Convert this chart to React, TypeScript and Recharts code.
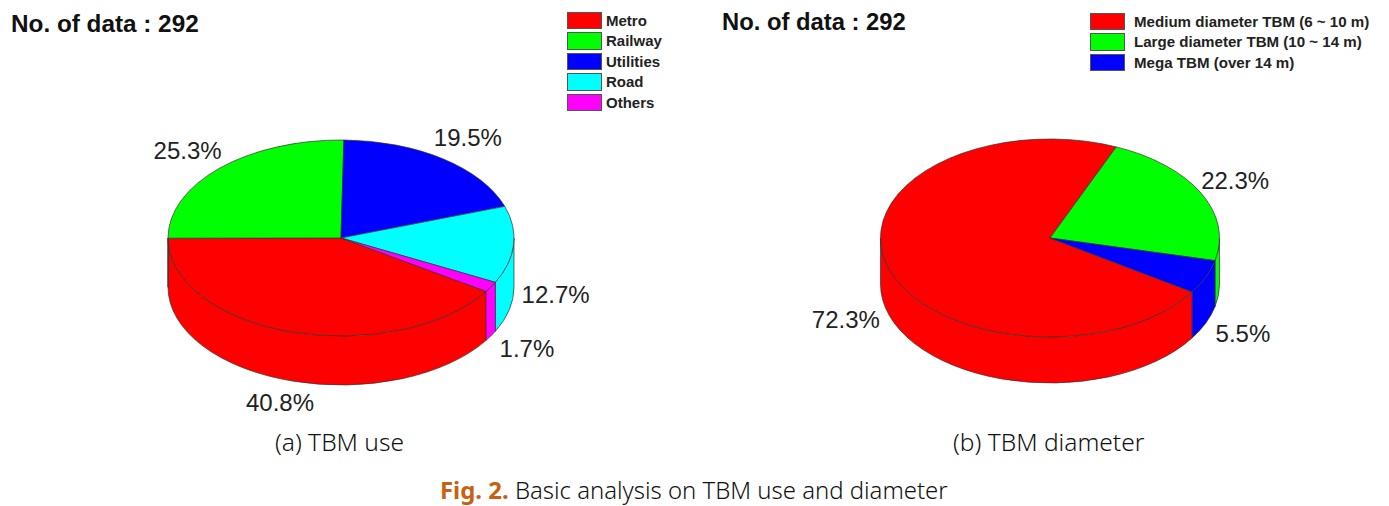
import { PieChart, Pie, Legend } from 'recharts'

const useNames = ['Metro', 'Railway', 'Utilities', 'Road', 'Others']
const useValues = [40.8, 25.3, 19.5, 12.7, 1.7]
const useColors = ['#FF0000', '#00FF00', '#0000FF', '#00FFFF', '#FF00FF']

const diameterNames = ['Medium diameter TBM (6 ~ 10 m)', 'Large diameter TBM (10 ~ 14 m)', 'Mega TBM (over 14 m)']
const diameterValues = [72.3, 22.3, 5.5]
const diameterColors = ['#FF0000', '#00FF00', '#0000FF']

const useNudges = [[-12, 22], [-32, -18], [25, -21], [42, 1], [36, 13]]
const diameterNudges = [[-42, 7], [34, -13], [37, 11]]

const toTable = (names: string[], values: number[], colors: string[]) =>
  names.map((name, i) => ({ name, value: values[i], fill: colors[i] }))

const rad = (a: number) => (a * Math.PI) / 180

// Recharts only knows circles, so the sector is redrawn as a tilted disc
function discShape(ry: number, depth: number) {
  return function DiscSector(props: any) {
    const { cx, cy, outerRadius: rx, startAngle, endAngle, fill } = props
    const pt = (a: number, dy = 0) => `${cx + rx * Math.cos(rad(a))} ${cy - ry * Math.sin(rad(a)) + dy}`
    const lo = Math.min(startAngle, endAngle)
    const hi = Math.max(startAngle, endAngle)
    const large = hi - lo > 180 ? 1 : 0

    const walls: string[] = []
    for (const k of [-360, 0, 360]) {
      const a = Math.max(lo, 180 + k)
      const b = Math.min(hi, 360 + k)
      if (b > a) {
        walls.push(
          `M${pt(b)} A${rx} ${ry} 0 0 1 ${pt(a)} L${pt(a, depth)} A${rx} ${ry} 0 0 0 ${pt(b, depth)} Z`
        )
      }
    }

    return (
      <g>
        {walls.map((d) => (
          <path key={d} d={d} fill={fill} stroke="#333" strokeWidth={0.7} />
        ))}
        <path
          d={`M${cx} ${cy} L${pt(hi)} A${rx} ${ry} 0 ${large} 1 ${pt(lo)} Z`}
          fill={fill}
          stroke="#333"
          strokeWidth={0.7}
        />
      </g>
    )
  }
}

function discLabel(ry: number, depth: number, nudges: number[][]) {
  return function DiscLabel(props: any) {
    const { cx, cy, outerRadius: rx, midAngle, index, value } = props
    const lower = Math.sin(rad(midAngle)) < 0 || Math.abs(midAngle % 360) < 5
    const x = cx + rx * Math.cos(rad(midAngle)) + nudges[index][0]
    const y = cy - ry * Math.sin(rad(midAngle)) + (lower ? depth : 0) + nudges[index][1]
    return (
      <text x={x} y={y} textAnchor="middle" dominantBaseline="central" fontSize={24} fill="#222" fontFamily="Liberation Sans">
        {value.toFixed(1)}%
      </text>
    )
  }
}

function legendContent(swatch: number, gap: number, rowPitch: number, fontSize: number) {
  return function DiscLegend({ payload }: any) {
    return (
      <div style={{ fontFamily: 'Liberation Sans', fontWeight: 700, fontSize, color: '#222' }}>
        {(payload || []).map((item: any) => (
          <div key={item.value} style={{ display: 'flex', alignItems: 'center', height: rowPitch }}>
            <span
              style={{
                display: 'inline-block',
                width: swatch,
                height: rowPitch - 3,
                boxSizing: 'border-box',
                background: item.color,
                border: '1px solid #555',
                marginRight: gap,
              }}
            />
            <span style={{ whiteSpace: 'nowrap' }}>{item.value}</span>
          </div>
        ))}
      </div>
    )
  }
}

const titleStyle = {
  position: 'absolute',
  fontFamily: 'Liberation Sans',
  fontWeight: 700,
  color: '#111',
  whiteSpace: 'nowrap',
} as const

const captionStyle = {
  position: 'absolute',
  fontFamily: 'Noto Sans',
  fontWeight: 300,
  color: '#111',
  whiteSpace: 'nowrap',
} as const

export default function App() {
  return (
    <div style={{ position: 'absolute', left: 0, top: 0, width: 1389, height: 506, background: '#fff', overflow: 'hidden' }}>
      <div style={{ position: 'absolute', left: 0, top: 0 }}>
        <PieChart width={700} height={430} margin={{ top: 0, right: 0, bottom: 0, left: 0 }}>
          <Pie
            data={toTable(useNames, useValues, useColors)}
            dataKey="value"
            nameKey="name"
            cx={341}
            cy={238}
            outerRadius={173}
            startAngle={327}
            endAngle={-33}
            shape={discShape(98, 49)}
            label={discLabel(98, 49, useNudges)}
            labelLine={false}
            isAnimationActive={false}
          />
          <Legend
            itemSorter={null}
            content={legendContent(35, 4, 20.5, 15)}
            wrapperStyle={{ position: 'absolute', left: 567, top: 10, width: 130, bottom: 'auto' }}
          />
        </PieChart>
      </div>
      <div style={{ position: 'absolute', left: 700, top: 0 }}>
        <PieChart width={689} height={430} margin={{ top: 0, right: 0, bottom: 0, left: 0 }}>
          <Pie
            data={toTable(diameterNames, diameterValues, diameterColors)}
            dataKey="value"
            nameKey="name"
            cx={350}
            cy={238}
            outerRadius={169.5}
            startAngle={327}
            endAngle={-33}
            shape={discShape(99, 46)}
            label={discLabel(99, 46, diameterNudges)}
            labelLine={false}
            isAnimationActive={false}
          />
          <Legend
            itemSorter={null}
            content={legendContent(35, 9, 20.5, 15.1)}
            wrapperStyle={{ position: 'absolute', left: 390, top: 11, width: 290, bottom: 'auto' }}
          />
        </PieChart>
      </div>
      <div style={{ ...titleStyle, left: 11, top: 10, fontSize: 24.3 }}>No. of data : 292</div>
      <div style={{ ...titleStyle, left: 722, top: 8, fontSize: 23.8 }}>No. of data : 292</div>
      <div style={{ ...captionStyle, left: 275, top: 425, fontSize: 24.5 }}>(a) TBM use</div>
      <div style={{ ...captionStyle, left: 953, top: 425, fontSize: 24.5 }}>(b) TBM diameter</div>
      <div style={{ ...captionStyle, left: 440, top: 473, fontSize: 23.9 }}>
        <span style={{ color: '#C8600F', fontWeight: 700 }}>Fig. 2.</span> Basic analysis on TBM use and diameter
      </div>
    </div>
  )
}
